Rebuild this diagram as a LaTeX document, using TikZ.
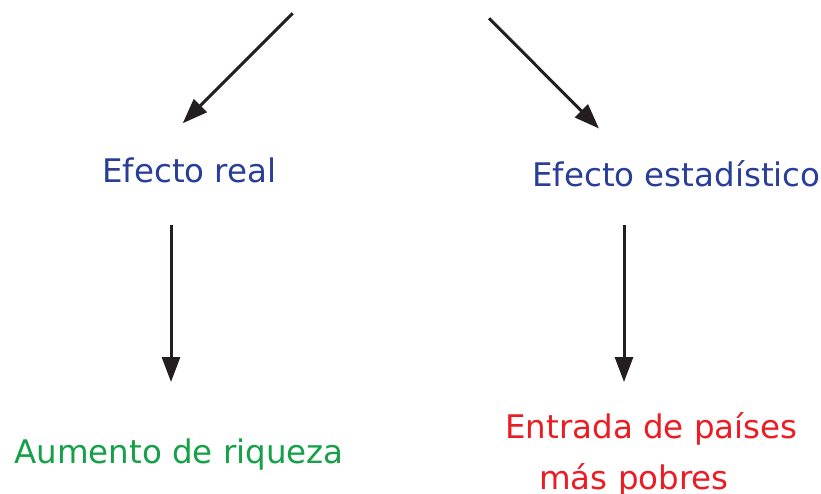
\documentclass[tikz,border=0pt]{standalone}
\usepackage{fontspec}
\setmainfont{DejaVu Sans}
\usetikzlibrary{arrows.meta}
\definecolor{txtblue}{RGB}{40,62,152}
\definecolor{txtgreen}{RGB}{22,160,72}
\definecolor{txtred}{RGB}{236,28,36}
\definecolor{arrowgray}{RGB}{35,31,32}
\begin{document}
\begin{tikzpicture}[x=1pt,y=-1pt,
  lbl/.style={anchor=base west,inner sep=0pt,font=\fontsize{32.5}{39}\selectfont},
  arr/.style={draw=arrowgray,line width=3pt,-{Triangle[length=25pt,width=18pt]}}]
\useasboundingbox (0,0) rectangle (821,494);
\node[lbl,text=txtblue] (real) at (102,183) {Efecto real};
\node[lbl,text=txtblue] (estad) at (532,187) {Efecto estadístico};
\node[lbl,text=txtgreen] (riqueza) at (14,463) {Aumento de riqueza};
\node[lbl,text=txtred] (entrada) at (505,438) {Entrada de países};
\node[lbl,text=txtred] (pobres) at (539,489) {más pobres};
\coordinate (s1) at (292.7,13.3);
\coordinate (t1) at (182.7,123.3);
\coordinate (s2) at (489,18.3);
\coordinate (t2) at (599,128.5);
\coordinate (s3) at (171,225);
\coordinate (t3) at (171,382);
\coordinate (s4) at (624,225);
\coordinate (t4) at (624,382);
\draw[arr] (s1) -- (t1);
\draw[arr] (s2) -- (t2);
\draw[arr] (s3) -- (t3);
\draw[arr] (s4) -- (t4);
\end{tikzpicture}
\end{document}
